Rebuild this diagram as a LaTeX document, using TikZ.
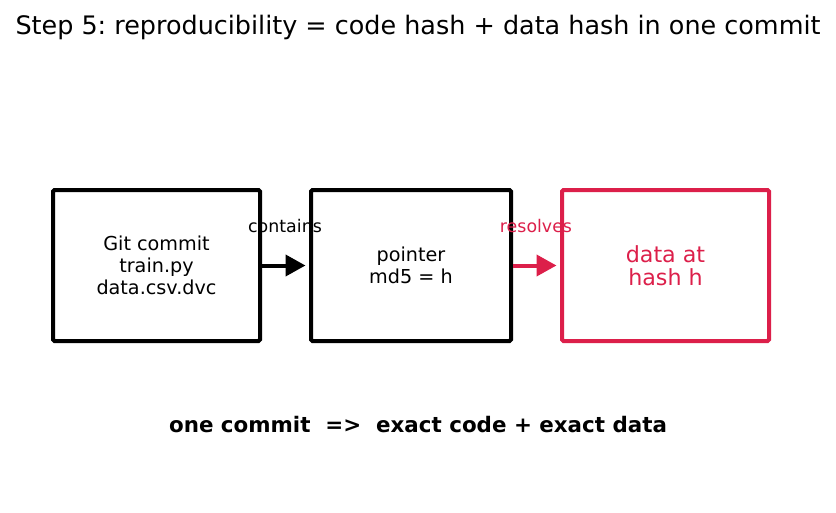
\documentclass[tikz,border=0pt]{standalone}
\usepackage{fontspec}
\setmainfont{DejaVu Sans}
\usetikzlibrary{arrows.meta}
\definecolor{crim}{HTML}{DC1F4A}
\frenchspacing
\tikzset{
  box/.style={draw, line width=4pt, rounded corners=1.5pt, minimum width=207pt, minimum height=151pt, align=center, inner sep=0pt},
  conn/.style={line width=4pt, -{Triangle[length=20pt,width=21pt]}, shorten >=3.5pt},
  lbl/.style={font=\fontsize{17.4}{20}\selectfont, inner sep=0pt},
}
\begin{document}
\begin{tikzpicture}[x=1pt,y=-1pt]
\useasboundingbox (0,0) rectangle (836,512);
\node[inner sep=0pt, font=\fontsize{25.45}{30}\selectfont] (title) at (418,27.5) {Step 5: reproducibility = code hash + data hash in one commit};
\node[box, font=\fontsize{19.2}{22}\selectfont] (git) at (156.5,265.5) {Git commit\\train.py\\data.csv.dvc};
\node[box, minimum width=200pt, font=\fontsize{19.2}{22}\selectfont] (ptr) at (411,265.5) {pointer\\md5 = h};
\node[box, draw=crim, text=crim, font=\fontsize{22.2}{23.5}\selectfont] (data) at (665.5,265.5) {data at\\hash h};
\draw[conn] (git.east) -- (ptr.west);
\draw[conn, draw=crim, fill=crim] (ptr.east) -- (data.west);
\node[lbl] (l1) at (285,226.5) {contains};
\node[lbl, text=crim] (l2) at (536,226.5) {resolves};
\node[inner sep=0pt, font=\fontsize{21.4}{25}\selectfont\bfseries] (foot) at (418,425) {one commit~~=>~~exact code + exact data};
\end{tikzpicture}
\end{document}
